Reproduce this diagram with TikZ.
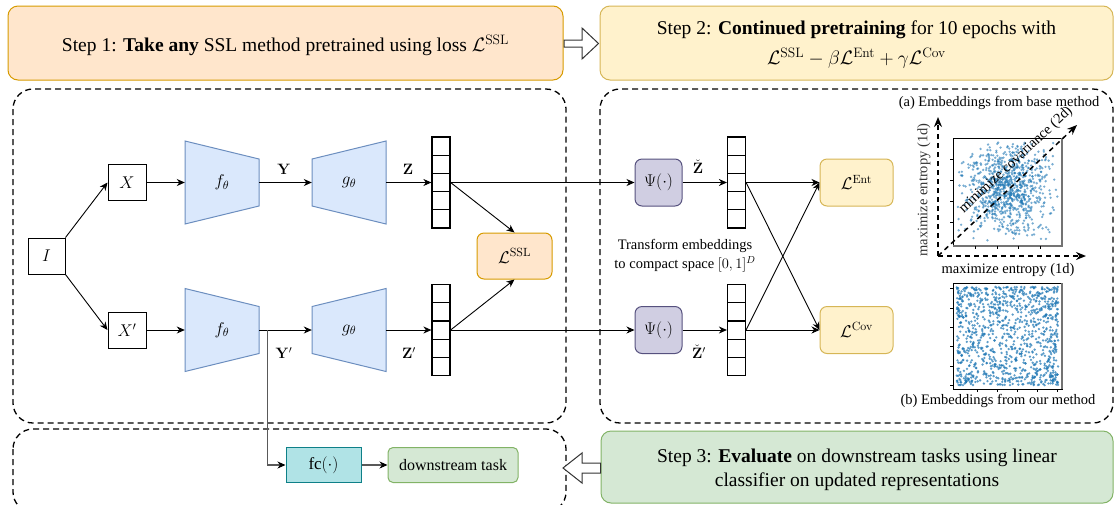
\RequirePackage{fix-cm}
\documentclass[tikz,border=0pt]{standalone}
\usepackage{amsmath}
\usepackage[no-math]{fontspec}
\setmainfont{Liberation Serif}
\usetikzlibrary{arrows.meta,calc}
\definecolor{orfill}{HTML}{FFE6CC}\definecolor{ordraw}{HTML}{D79B00}
\definecolor{yefill}{HTML}{FFF2CC}\definecolor{yedraw}{HTML}{D6B656}
\definecolor{grfill}{HTML}{D5E8D4}\definecolor{grdraw}{HTML}{82B366}
\definecolor{blfill}{HTML}{DAE8FC}\definecolor{bldraw}{HTML}{6C8EBF}
\definecolor{pufill}{HTML}{D0CEE2}\definecolor{pudraw}{HTML}{56517E}
\definecolor{tefill}{HTML}{B0E3E6}\definecolor{tedraw}{HTML}{0E8088}
\definecolor{pts}{HTML}{1F77B4}
\newcommand{\stepfont}{\fontsize{19.5}{24}\selectfont}
\newcommand{\labfont}{\fontsize{17}{20}\selectfont}
\newcommand{\smfont}{\fontsize{14.5}{19}\selectfont}
\newcommand{\bfont}{\fontsize{15}{17}\selectfont}
\tikzset{
  panel/.style={draw, line width=1.3pt, dash pattern=on 6pt off 4pt, rounded corners=20pt},
  stepbox/.style={rounded corners=10pt, line width=1pt, align=center, font=\stepfont, inner sep=0pt},
  steptext/.style={align=center, font=\stepfont, inner sep=0pt},
  sqbox/.style={draw, line width=1pt, minimum width=37pt, minimum height=36pt, inner sep=0pt, font=\labfont},
  trap/.style={draw=bldraw, fill=blfill, line width=1pt},
  trapnode/.style={minimum width=74pt, minimum height=40pt, inner sep=0pt, font=\labfont},
  vecbox/.style={draw, line width=1.2pt, minimum width=18pt, minimum height=91pt, inner sep=0pt,
    path picture={\foreach \k in {1,2,3,4}{\draw[line width=1.2pt]
      ($(path picture bounding box.north west)!\k/5!(path picture bounding box.south west)$) --
      ($(path picture bounding box.north east)!\k/5!(path picture bounding box.south east)$);}}},
  lossbox/.style={rounded corners=7pt, line width=1pt, minimum width=73pt, minimum height=46pt, inner sep=0pt, font=\labfont},
  psibox/.style={draw=pudraw, fill=pufill, rounded corners=7pt, line width=1pt, minimum width=47pt, minimum height=47pt, inner sep=0pt, font=\labfont},
  conn/.style={line width=0.9pt, -{Stealth[length=8pt,width=7pt,inset=2.5pt]}},
  gconn/.style={line width=1.1pt, draw=black!65, -{Stealth[length=8pt,width=7pt,inset=2.5pt,color=black]}},
  hollow/.style={draw=black!80, fill=white, line width=1pt, line join=miter},
  dasharrow/.style={line width=1.5pt, dash pattern=on 5pt off 4pt, -{Stealth[length=10pt,width=8pt]}},
  ptA/.style={fill=pts, fill opacity=0.6},
  ptB/.style={fill=pts, fill opacity=0.72},
}
\begin{document}
\begin{tikzpicture}[x=1pt,y=-1pt]
\useasboundingbox (0,0) rectangle (1115,504);
\begin{scope}
\clip (0,0) rectangle (1115,504);
% panels
\draw[panel] (13,89) rectangle (566,423);
\draw[panel] (600,89) rectangle (1113,423);
\draw[panel] (13,429) rectangle (566,512);
\end{scope}
% step boxes
\node[stepbox, draw=ordraw, fill=orfill, minimum width=555pt, minimum height=74pt] (s1) at (285.5,43) {};
\node[steptext] (s1t) at (285.5,45)
  {Step 1: \textbf{Take any} SSL method pretrained using loss $\mathcal{L}^{\mathrm{SSL}}$};
\node[stepbox, draw=yedraw, fill=yefill, minimum width=513pt, minimum height=74pt] (s2) at (856.5,43) {};
\node[steptext] (s2t) at (856.5,45)
  {Step 2: \textbf{Continued pretraining} for 10 epochs with\\[6pt]
   $\mathcal{L}^{\mathrm{SSL}}-\beta\mathcal{L}^{\mathrm{Ent}}+\gamma\mathcal{L}^{\mathrm{Cov}}$};
\node[stepbox, draw=grdraw, fill=grfill, minimum width=512pt, minimum height=72pt] (s3) at (857,467) {};
\node[steptext] (s3t) at (857,470)
  {Step 3: \textbf{Evaluate} on downstream tasks using linear\\[0pt]classifier on updated representations};
% hollow arrows
\draw[hollow] (564,40) -- (582,40) -- (582,28) -- (598.5,43.5) -- (582,59) -- (582,47) -- (564,47) -- cycle;
\draw[hollow] (600.5,463) -- (582,463) -- (582,453) -- (563,468) -- (582,483) -- (582,473) -- (600.5,473) -- cycle;
% input
\node[sqbox] (I) at (46.5,256) {$I$};
\node[sqbox, minimum width=38pt] (X) at (127,182.5) {$X$};
\node[sqbox, minimum width=38pt] (Xp) at (127,330) {$X'$};
% trapezoids
\draw[trap] (185,141) -- (259,159) -- (259,206) -- (185,224) -- cycle;
\node[trapnode] (f1) at (222,182.5) {$f_\theta$};
\draw[trap] (312,159) -- (386,141) -- (386,224) -- (312,206) -- cycle;
\node[trapnode] (g1) at (349,182.5) {$g_\theta$};
\draw[trap] (185,288.5) -- (259,306.5) -- (259,353.5) -- (185,371.5) -- cycle;
\node[trapnode] (f2) at (222,330) {$f_\theta$};
\draw[trap] (312,306.5) -- (386,288.5) -- (386,371.5) -- (312,353.5) -- cycle;
\node[trapnode] (g2) at (349,330) {$g_\theta$};
% vectors
\node[vecbox] (v1) at (441,182.5) {};
\node[vecbox] (v2) at (441,330) {};
\node[vecbox] (v3) at (736.5,182.5) {};
\node[vecbox] (v4) at (736.5,330) {};
% losses
\node[lossbox, draw=ordraw, fill=orfill, minimum width=75pt] (ssl) at (514.5,256) {$\mathcal{L}^{\mathrm{SSL}}$};
\node[lossbox, draw=yedraw, fill=yefill, minimum height=47pt] (ent) at (856.5,182.5) {$\mathcal{L}^{\mathrm{Ent}}$};
\node[lossbox, draw=yedraw, fill=yefill, minimum height=47pt] (cov) at (856.5,330) {$\mathcal{L}^{\mathrm{Cov}}$};
\node[psibox] (psi1) at (658.5,182.5) {$\Psi(\cdot)$};
\node[psibox] (psi2) at (658.5,330) {$\Psi(\cdot)$};
% fc and downstream
\node[draw=tedraw, fill=tefill, line width=1pt, minimum width=75pt, minimum height=35pt, inner sep=0pt, font=\labfont] (fc) at (323.5,465) {fc$(\cdot)$};
\node[draw=grdraw, fill=grfill, rounded corners=5pt, line width=1pt, minimum width=130pt, minimum height=35pt, inner sep=0pt, font=\fontsize{16}{19}\selectfont] (ds) at (453,465) {downstream task};
% connectors
\draw[conn] (I.north east) -- (X.west);
\draw[conn] (I.south east) -- (Xp.west);
\draw[conn] (X) -- (f1.west);
\draw[conn] (Xp) -- (f2.west);
\draw[conn] (f1.east) -- (g1.west);
\node[font=\bfont] (lY) at (284,169) {$\mathbf{Y}$};
\draw[conn] (f2.east) -- (g2.west);
\draw[conn] (g1.east) -- (v1.west);
\node[font=\bfont] (lZ) at (408,169) {$\mathbf{Z}$};
\draw[conn] (g2.east) -- (v2.west);
\node[font=\bfont] (lZp) at (409,353) {$\mathbf{Z}'$};
\draw[conn] (v1.east) -- (ssl.north);
\draw[conn] (v2.east) -- (ssl.south);
\draw[conn] (v1.east) -- (psi1.west);
\draw[conn] (v2.east) -- (psi2.west);
\draw[conn] (psi1.east) -- (v3.west);
\node[font=\bfont] (lZc) at (698,167) {$\check{\mathbf{Z}}$};
\draw[conn] (psi2.east) -- (v4.west);
\node[font=\bfont] (lZcp) at (699,352) {$\check{\mathbf{Z}}'$};
\draw[conn] (v3.east) -- (ent.west);
\draw[conn] (v3.east) -- (cov.west);
\draw[conn] (v4.east) -- (cov.west);
\draw[conn] (v4.east) -- (ent.west);
\coordinate (br) at (267.5,330);
\node[font=\bfont] (lYp) at (284,353) {$\mathbf{Y}'$};
\draw[gconn] (br) |- (fc.west);
\draw[gconn] (fc.east) -- (ds.west);
% transform text
\node[font=\smfont, align=center] (tr) at (685,256) {Transform embeddings\\to compact space $[0,1]^D$};
% scatter (a)
\node[font=\smfont] (ta) at (999,103) {(a) Embeddings from base method};
\begin{scope}
\pgfmathsetseed{11}
\foreach \i in {1,...,650}{
  \pgfmathsetmacro{\ga}{rand+rand+rand}
  \pgfmathsetmacro{\gb}{rand+rand+rand}
  \pgfmathsetmacro{\px}{0.47+0.16*\ga+0.12*\gb}
  \pgfmathsetmacro{\py}{0.54+0.16*\ga-0.12*\gb}
  \pgfmathsetmacro{\px}{ifthenelse(abs(\px-0.5)>0.46,0.5+0.4*rand,\px)}
  \pgfmathsetmacro{\py}{ifthenelse(abs(\py-0.5)>0.46,0.5+0.4*rand,\py)}
  \fill[ptA] (953+109*\px,246-108*\py) circle[radius=1.3pt];
}
\foreach \i in {1,...,250}{
  \pgfmathsetmacro{\ga}{rand+rand}
  \pgfmathsetmacro{\gb}{rand+rand}
  \pgfmathsetmacro{\px}{0.52+0.22*\ga+0.13*\gb}
  \pgfmathsetmacro{\py}{0.48-0.22*\ga+0.13*\gb}
  \pgfmathsetmacro{\px}{ifthenelse(abs(\px-0.5)>0.46,0.5+0.4*rand,\px)}
  \pgfmathsetmacro{\py}{ifthenelse(abs(\py-0.5)>0.46,0.5+0.4*rand,\py)}
  \fill[ptA] (953+109*\px,246-108*\py) circle[radius=1.3pt];
}
\end{scope}
\draw[line width=0.7pt] (953,138) rectangle (1062,246);
\draw[line width=1.6pt, black!55] (1062,138) -- (1062,246) -- (953,246);
\foreach \t in {159,180,201,222}{\draw[line width=0.5pt] (950,\t) -- (953,\t);}
\foreach \t in {975,997,1018,1040}{\draw[line width=0.5pt] (\t,246) -- (\t,249);}
\coordinate (o) at (938,256);
\coordinate (ay) at (938,117);
\coordinate (ax) at (1086,256);
\coordinate (ad) at (1077,125);
\draw[dasharrow] (o) -- (ay);
\draw[dasharrow] (o) -- (ax);
\draw[dasharrow] (o) -- (ad);
\node[font=\smfont, rotate=90, text=black!80] (ly) at (924,190) {maximize entropy (1d)};
\node[font=\smfont] (lx) at (1008,270) {maximize entropy (1d)};
\node[font=\smfont, rotate=43, inner sep=1pt] (ld) at (1016,160) {minimize covariance (2d)};
% scatter (b)
\begin{scope}
\pgfmathsetseed{5}
\foreach \i in {1,...,1050}{
  \pgfmathsetmacro{\ua}{rand}
  \pgfmathsetmacro{\ub}{rand}
  \pgfmathsetmacro{\px}{0.5+0.465*(0.6*\ua+0.4*sin(90*\ua))}
  \pgfmathsetmacro{\py}{0.5+0.465*(0.6*\ub+0.4*sin(90*\ub))}
  \fill[ptB] (953+109*\px,389-106*\py) circle[radius=1.3pt];
}
\end{scope}
\draw[line width=0.7pt] (953,283) rectangle (1062,389);
\draw[line width=1.6pt, black!55] (1062,283) -- (1062,389);
\foreach \t in {288,308,327,346,366,385}{\draw[line width=0.5pt] (950,\t) -- (953,\t);}
\foreach \t in {977,997,1017,1037,1057}{\draw[line width=0.5pt] (\t,389) -- (\t,392);}
\node[font=\smfont] (tb) at (998,401) {(b) Embeddings from our method};
\end{tikzpicture}
\end{document}
